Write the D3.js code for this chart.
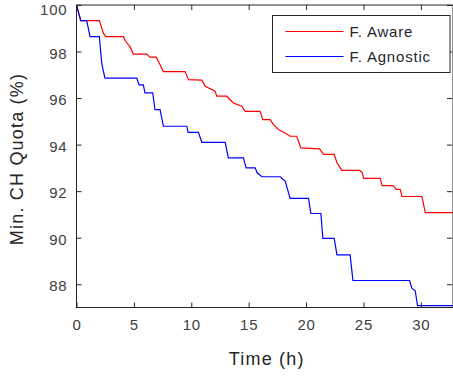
<!DOCTYPE html>
<html>
<head>
<meta charset="utf-8">
<script src="https://cdn.jsdelivr.net/npm/d3@7"></script>
<style>
  body { margin: 0; background: #fff; }
  svg { display: block; font-family: Arial, "Liberation Sans", sans-serif; }
</style>
</head>
<body>
<div id="chart"></div>
<script>
// series: [time (h), min CH quota (%)]
const awareTime = [0, 0.37, 1.99, 2.34, 2.54, 4.08, 4.29, 4.66, 4.95, 6.11, 6.40, 6.94, 7.14, 7.28, 7.57, 9.46, 9.75, 10.92, 11.21, 12.07, 12.22, 13.09, 13.38, 13.67, 14.40, 14.69, 15.99, 16.23, 16.87, 17.16, 17.59, 18.17, 18.61, 19.19, 19.54, 21.17, 21.52, 22.45, 22.69, 23.12, 24.66, 24.90, 25.02, 26.46, 26.62, 27.59, 27.85, 28.20, 28.35, 30.09, 30.39, 32.8];
const awareQuota = [100, 99.33, 99.33, 98.79, 98.64, 98.64, 98.43, 98.21, 97.89, 97.89, 97.76, 97.76, 97.57, 97.43, 97.14, 97.14, 96.79, 96.77, 96.51, 96.30, 96.08, 96.08, 95.93, 95.79, 95.65, 95.43, 95.43, 95.07, 95.07, 94.86, 94.65, 94.50, 94.36, 94.36, 93.86, 93.82, 93.58, 93.58, 93.22, 92.89, 92.89, 92.79, 92.55, 92.55, 92.24, 92.24, 92.08, 92.08, 91.77, 91.77, 91.08, 91.08];

const agnosticTime = [0, 0.37, 0.89, 1.18, 1.99, 2.09, 2.22, 2.48, 5.25, 5.45, 5.82, 5.97, 6.64, 6.84, 7.28, 7.57, 9.61, 9.72, 10.62, 10.92, 12.95, 13.23, 14.54, 14.78, 15.56, 15.74, 16.15, 17.74, 18.18, 18.61, 20.21, 20.42, 21.29, 21.46, 22.45, 22.69, 23.84, 24.08, 29.02, 29.22, 29.51, 29.71, 32.8];
const agnosticQuota = [100, 99.33, 99.33, 98.64, 98.64, 98.07, 97.43, 96.86, 96.86, 96.57, 96.57, 96.22, 96.22, 95.50, 95.50, 94.79, 94.79, 94.53, 94.53, 94.10, 94.10, 93.43, 93.43, 93.00, 93.00, 92.79, 92.62, 92.62, 92.43, 91.69, 91.69, 91.04, 91.04, 89.97, 89.97, 89.26, 89.26, 88.16, 88.16, 87.82, 87.72, 87.08, 87.08];

const seriesNames = ['F. Aware', 'F. Agnostic'];
const seriesColors = ['#ff0000', '#0000ff'];
const xTicks = [0, 5, 10, 15, 20, 25, 30];
const yTicks = [88, 90, 92, 94, 96, 98, 100];

const W = 453, H = 376;
const mLeft = 76.5, mRight = 453, mTop = 5, mBottom = 307.5;

const svg = d3.select('#chart').append('svg')
  .attr('width', W)
  .attr('height', H);

const x = d3.scaleLinear().domain([0, 32.8]).range([mLeft, mRight]);
const y = d3.scaleLinear().domain([87, 100]).range([mBottom, mTop]);

svg.append('clipPath').attr('id', 'clip')
  .append('rect')
  .attr('x', mLeft).attr('y', mTop)
  .attr('width', mRight - mLeft).attr('height', mBottom - mTop);

const series = [
  awareTime.map((t, i) => [t, awareQuota[i]]),
  agnosticTime.map((t, i) => [t, agnosticQuota[i]])
];

const line = d3.line().x(d => x(d[0])).y(d => y(d[1]));

svg.append('g').attr('clip-path', 'url(#clip)')
  .selectAll('path')
  .data(series)
  .enter().append('path')
  .attr('d', line)
  .attr('fill', 'none')
  .attr('stroke', (d, i) => seriesColors[i])
  .attr('stroke-width', 1.2);

const axisColor = '#262626';
const tickStyle = g => {
  g.select('.domain').remove();
  g.selectAll('.tick line').attr('stroke', axisColor);
  g.selectAll('.tick text')
    .attr('fill', '#404040')
    .attr('font-size', 15)
    .attr('letter-spacing', 0.8);
};

// bottom and left axes, ticks pointing inside
svg.append('g')
  .attr('transform', `translate(0,${mBottom})`)
  .call(d3.axisBottom(x).tickValues(xTicks).tickSizeInner(-5).tickPadding(12))
  .call(tickStyle);

svg.append('g')
  .attr('transform', `translate(${mLeft},0)`)
  .call(d3.axisLeft(y).tickValues(yTicks).tickSizeInner(-5).tickPadding(9))
  .call(tickStyle)
  .selectAll('.tick text').attr('dy', d => d === 100 ? '0.62em' : '0.45em');

// top and right ticks without labels
svg.append('g')
  .attr('transform', `translate(0,${mTop})`)
  .call(d3.axisTop(x).tickValues(xTicks).tickSizeInner(-5).tickFormat(''))
  .call(tickStyle);

svg.append('g')
  .attr('transform', `translate(${mRight - 1},0)`)
  .call(d3.axisRight(y).tickValues(yTicks).tickSizeInner(-5).tickFormat(''))
  .call(tickStyle);

// box
svg.append('rect')
  .attr('x', mLeft).attr('y', mTop)
  .attr('width', mRight - mLeft).attr('height', mBottom - mTop)
  .attr('fill', 'none')
  .attr('stroke', axisColor)
  .attr('stroke-width', 1);

// axis titles
svg.append('text')
  .attr('x', (mLeft + mRight) / 2 + 2)
  .attr('y', 365)
  .attr('text-anchor', 'middle')
  .attr('font-size', 18)
  .attr('letter-spacing', 1.2)
  .attr('fill', '#262626')
  .text('Time (h)');

svg.append('text')
  .attr('transform', `translate(23,159) rotate(-90)`)
  .attr('text-anchor', 'middle')
  .attr('font-size', 18)
  .attr('letter-spacing', 1.2)
  .attr('fill', '#262626')
  .text('Min. CH Quota (%)');

// legend
const legend = svg.append('g').attr('transform', 'translate(272.5,15.5)');
legend.append('rect')
  .attr('width', 177.5).attr('height', 57)
  .attr('fill', '#fff')
  .attr('stroke', axisColor);

const items = legend.selectAll('.legends')
  .data(seriesNames)
  .enter().append('g')
  .classed('legends', true)
  .attr('transform', (d, i) => `translate(0,${16 + i * 25})`);

items.append('line')
  .attr('x1', 13).attr('x2', 71)
  .attr('stroke', (d, i) => seriesColors[i])
  .attr('stroke-width', 1.2);

items.append('text')
  .attr('x', 77).attr('y', 5.5)
  .attr('font-size', 15)
  .attr('letter-spacing', 0.8)
  .attr('fill', '#262626')
  .text(d => d);
</script>
</body>
</html>
